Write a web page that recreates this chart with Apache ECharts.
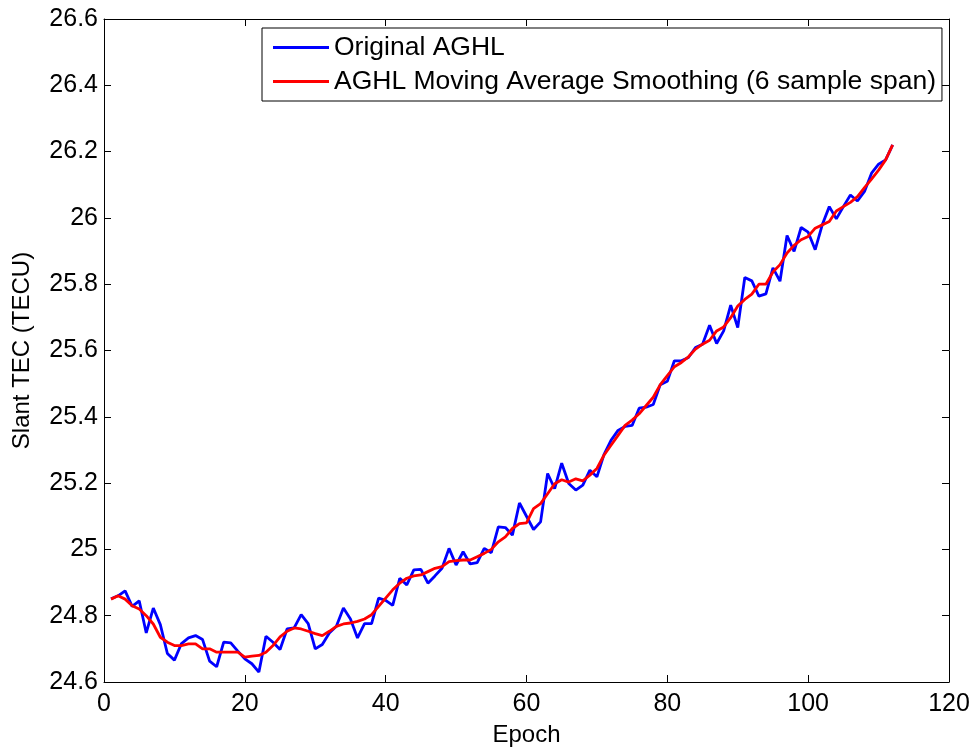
<!DOCTYPE html>
<html>
<head>
<meta charset="utf-8">
<script src="https://cdn.jsdelivr.net/npm/echarts@6/dist/echarts.min.js"></script>
<style>
html,body{margin:0;padding:0;background:#fff;}
#chart{width:978px;height:752px;}
</style>
</head>
<body>
<div id="chart"></div>
<script>
// Epoch numbers 1..112
var epochs = [];
for (var i = 1; i <= 112; i++) epochs.push(i);

var originalAGHL = [
24.851,24.860,24.875,24.828,24.845,24.748,24.823,24.773,24.686,24.666,
24.716,24.733,24.740,24.728,24.663,24.646,24.720,24.718,24.693,24.670,
24.655,24.630,24.738,24.720,24.698,24.760,24.763,24.803,24.776,24.700,
24.713,24.748,24.768,24.823,24.790,24.733,24.776,24.776,24.853,24.846,
24.831,24.913,24.893,24.938,24.940,24.898,24.920,24.943,25.003,24.953,
24.993,24.956,24.960,25.003,24.990,25.068,25.066,25.043,25.140,25.100,
25.060,25.083,25.229,25.183,25.260,25.199,25.179,25.194,25.239,25.219,
25.286,25.329,25.359,25.371,25.374,25.426,25.429,25.437,25.497,25.507,
25.569,25.569,25.579,25.609,25.619,25.676,25.621,25.659,25.737,25.669,
25.820,25.810,25.764,25.771,25.849,25.809,25.947,25.899,25.971,25.957,
25.904,25.979,26.034,25.997,26.034,26.069,26.051,26.080,26.135,26.162,
26.175,26.220
];

var smoothedAGHL = [
24.850,24.860,24.850,24.830,24.820,24.800,24.775,24.735,24.720,24.710,
24.710,24.715,24.715,24.700,24.700,24.690,24.690,24.690,24.690,24.675,
24.678,24.680,24.690,24.710,24.736,24.753,24.763,24.760,24.753,24.746,
24.740,24.753,24.768,24.775,24.778,24.783,24.790,24.803,24.828,24.853,
24.878,24.898,24.913,24.920,24.923,24.933,24.943,24.948,24.963,24.966,
24.968,24.968,24.978,24.988,25.000,25.023,25.038,25.063,25.078,25.080,
25.123,25.138,25.168,25.198,25.210,25.203,25.213,25.207,25.224,25.244,
25.284,25.314,25.344,25.374,25.390,25.409,25.434,25.459,25.497,25.524,
25.551,25.564,25.581,25.604,25.619,25.631,25.659,25.671,25.699,25.734,
25.754,25.770,25.800,25.800,25.837,25.859,25.894,25.917,25.934,25.944,
25.969,25.979,25.989,26.021,26.034,26.047,26.064,26.091,26.117,26.144,
26.175,26.220
];

var seriesNames = ['Original AGHL', 'AGHL Moving Average Smoothing (6 sample span)'];
var xTicks = [0, 20, 40, 60, 80, 100, 120];
var yTicks = [24.6, 24.8, 25, 25.2, 25.4, 25.6, 25.8, 26, 26.2, 26.4, 26.6];

function pairs(vals) {
  return epochs.map(function (e, i) { return [e, vals[i]]; });
}

var FONT = '"Liberation Sans", Arial, Helvetica, sans-serif';
var axisLineStyle = { show: true, onZero: false, lineStyle: { color: '#000', width: 1 } };
var tickStyle = { show: true, inside: true, length: 7, lineStyle: { color: '#000', width: 1 } };

var chart = echarts.init(document.getElementById('chart'), null, { renderer: 'canvas' });
chart.setOption({
  animation: false,
  backgroundColor: '#fff',
  grid: { left: 104, right: 29, top: 19, bottom: 66, containLabel: false },
  legend: {
    orient: 'vertical',
    left: 262,
    top: 28,
    data: seriesNames,
    icon: 'rect',
    backgroundColor: '#fff',
    borderColor: '#000',
    borderWidth: 1,
    padding: [6, 6, 6, 11],
    itemGap: 7,
    itemWidth: 56,
    itemHeight: 3,
    textStyle: { fontFamily: FONT, fontSize: 26.5, color: '#000', lineHeight: 26, padding: [0, 0, 0, 0] }
  },
  xAxis: [{
    type: 'value', min: xTicks[0], max: xTicks[xTicks.length - 1], interval: 20,
    position: 'bottom',
    name: 'Epoch', nameLocation: 'middle', nameGap: 41,
    nameTextStyle: { fontFamily: FONT, fontSize: 24, color: '#000' },
    axisLine: axisLineStyle, axisTick: tickStyle,
    axisLabel: { fontFamily: FONT, fontSize: 25, color: '#000', margin: 10 },
    splitLine: { show: false }
  }, {
    type: 'value', min: xTicks[0], max: xTicks[xTicks.length - 1], interval: 20,
    position: 'top',
    axisLine: axisLineStyle, axisTick: tickStyle,
    axisLabel: { show: false }, splitLine: { show: false }
  }],
  yAxis: [{
    type: 'value', min: yTicks[0], max: yTicks[yTicks.length - 1], interval: 0.2,
    position: 'left',
    name: 'Slant TEC (TECU)', nameLocation: 'middle', nameGap: 70,
    nameTextStyle: { fontFamily: FONT, fontSize: 24, color: '#000' },
    axisLine: axisLineStyle, axisTick: tickStyle,
    axisLabel: {
      fontFamily: FONT, fontSize: 25, color: '#000', margin: 6,
      formatter: function (v) { return String(parseFloat(v.toFixed(1))); }
    },
    splitLine: { show: false }
  }, {
    type: 'value', min: yTicks[0], max: yTicks[yTicks.length - 1], interval: 0.2,
    position: 'right',
    axisLine: axisLineStyle, axisTick: tickStyle,
    axisLabel: { show: false }, splitLine: { show: false }
  }],
  series: [{
    name: seriesNames[0], type: 'line', data: pairs(originalAGHL),
    symbol: 'none', smooth: false,
    lineStyle: { color: '#0000ff', width: 2.8 }, itemStyle: { color: '#0000ff' },
    z: 2
  }, {
    name: seriesNames[1], type: 'line', data: pairs(smoothedAGHL),
    symbol: 'none', smooth: false,
    lineStyle: { color: '#ff0000', width: 2.8 }, itemStyle: { color: '#ff0000' },
    z: 3
  }]
});
</script>
</body>
</html>
